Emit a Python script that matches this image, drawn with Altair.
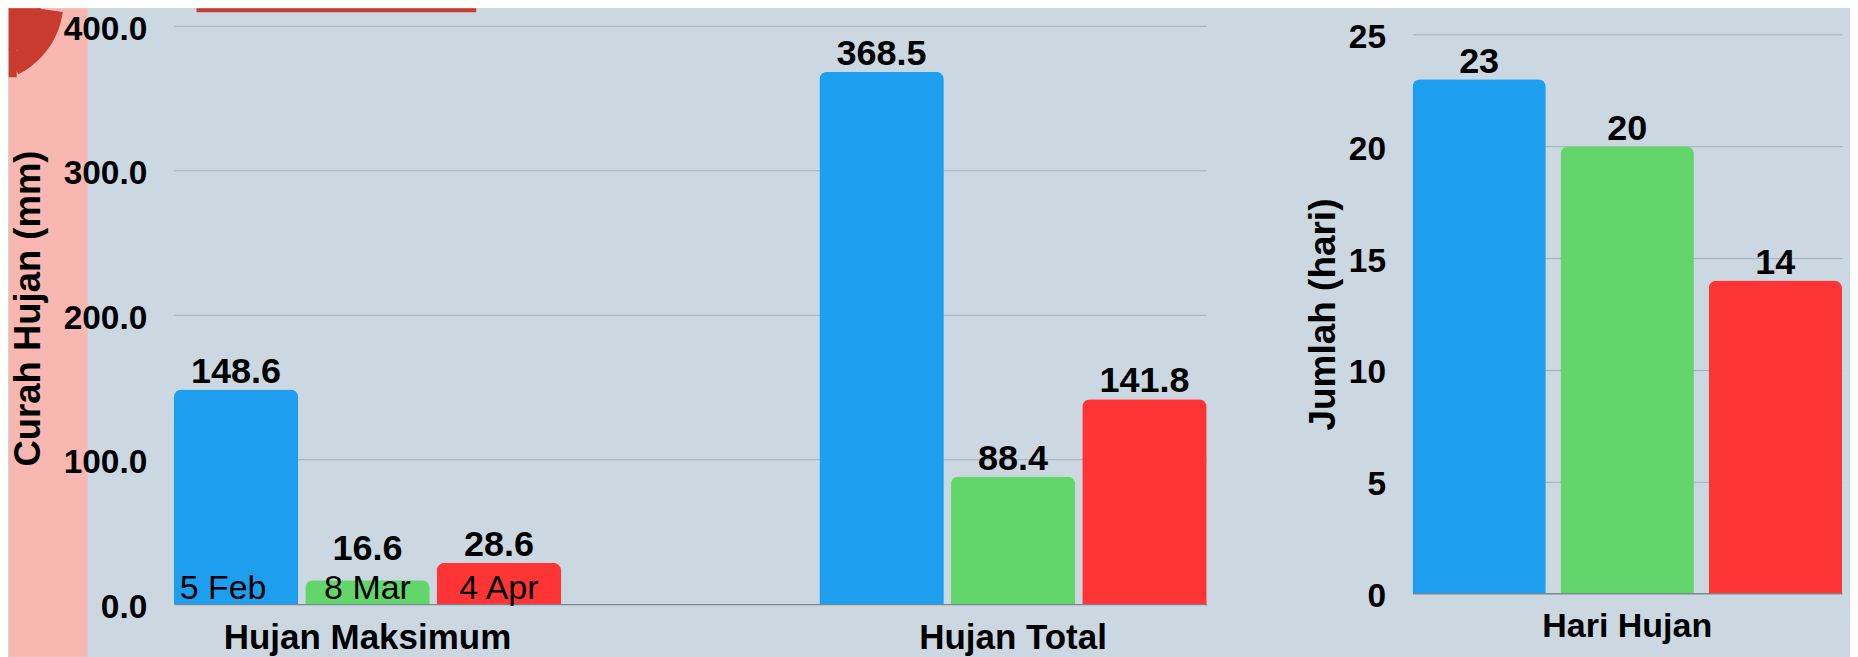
import altair as alt
import pandas as pd

# ---------------- data ----------------
series = ["Februari", "Maret", "April"]
colors = ["#1D9EEF", "#62D66B", "#FF3535"]
groups_left = ["Hujan Maksimum", "Hujan Total"]
hujan_maks = [148.6, 16.6, 28.6]
tanggal_maks = ["5 Feb", "8 Mar", "4 Apr"]
hujan_total = [368.5, 88.4, 141.8]
group_right = ["Hari Hujan"]
hari_hujan = [23, 20, 14]
ticks_left = [0, 100, 200, 300, 400]
ticks_right = [0, 5, 10, 15, 20, 25]

left_df = pd.DataFrame({
    "kategori": [groups_left[0]] * 3 + [groups_left[1]] * 3,
    "seri": series * 2,
    "nilai": hujan_maks + hujan_total,
    "tanggal": tanggal_maks + [""] * 3,
})
right_df = pd.DataFrame({
    "kategori": group_right * 3,
    "seri": series,
    "nilai": hari_hujan,
})
grid_df = pd.DataFrame({"tick": ticks_left})
one = pd.DataFrame({"k": [0]})

FONT = "Liberation Sans"
BG = "#CBD8E2"
GRID = "#A2B0BC"
BASE = "#7E8890"

# ---------------- layout (page pixels) ----------------
LX, LY, LW, LH = 173.3, 26.0, 1034, 578.5
RX, RY, RW, RH = 1412.1, 26.0, 430, 567.5
R_TOP = 25.371  # right axis value at the top of its plot area


def lx(px):
    return px - LX


def ly(py):
    return py - LY


def rx(px):
    return px - RX


def ry(py):
    return py - RY


# ---------------- left chart ----------------
xl = alt.X("kategori:N", sort=groups_left,
           scale=alt.Scale(paddingInner=0.4, paddingOuter=0),
           axis=alt.Axis(title=None, labelAngle=0, labelFontSize=35, labelFontWeight="bold",
                         labelPadding=16, labelLimit=600, ticks=False, tickSize=0,
                         domainColor=BASE, domainWidth=1.2, labelColor="#000000",
                         labelFont=FONT))
xol = alt.XOffset("seri:N", sort=series, scale=alt.Scale(paddingInner=0.053, paddingOuter=0))
yscale_l = alt.Scale(domain=[0, 400], nice=False)
yaxis_l = alt.Axis(values=ticks_left, format=".1f", title="Curah Hujan (mm)", grid=False,
                   titleFontSize=36.5, titleFontWeight="bold", titlePadding=16,
                   titleY=282, titleColor="#000000", titleFont=FONT,
                   labelFontSize=33.5, labelFontWeight="bold", labelPadding=27,
                   labelOffset=3, labelColor="#000000", labelFont=FONT,
                   ticks=False, tickSize=0, domain=False, zindex=2)
col = alt.Color("seri:N", scale=alt.Scale(domain=series, range=colors), legend=None)

pink = alt.Chart(one).mark_rect(color="#F8B8B1").encode(
    x=alt.value(lx(8)), x2=alt.value(lx(87)), y=alt.value(ly(8)), y2=alt.value(ly(657)))
red_c = "#C93A2F"
red_rect1 = alt.Chart(one).mark_rect(color=red_c).encode(
    x=alt.value(lx(8)), x2=alt.value(lx(40)), y=alt.value(ly(8)), y2=alt.value(ly(50)))
red_rect2 = alt.Chart(one).mark_rect(color=red_c).encode(
    x=alt.value(lx(8)), x2=alt.value(lx(16)), y=alt.value(ly(49)), y2=alt.value(ly(77)))
red_arc1 = alt.Chart(one).mark_arc(color=red_c, theta=1.711, theta2=2.325,
                                   radius=83, radius2=58).encode(
    x=alt.value(lx(-20)), y=alt.value(ly(0)))
red_arc2 = alt.Chart(one).mark_arc(color=red_c, theta=2.318, theta2=2.671,
                                   radius=83, radius2=62).encode(
    x=alt.value(lx(-20)), y=alt.value(ly(0)))
red_strip = alt.Chart(one).mark_rect(color="#CC3B30").encode(
    x=alt.value(lx(196)), x2=alt.value(lx(476)), y=alt.value(ly(8)), y2=alt.value(ly(12)))

gridlines_l = alt.Chart(grid_df).transform_filter("datum.tick > 0").mark_rule(
    color=GRID, strokeWidth=1).encode(
    y=alt.Y("tick:Q", scale=yscale_l, axis=yaxis_l),
    x=alt.value(0), x2=alt.value(LW))

bars_l = alt.Chart(left_df).mark_bar(cornerRadiusTopLeft=8, cornerRadiusTopRight=8).encode(
    x=xl, xOffset=xol, y=alt.Y("nilai:Q", scale=yscale_l, axis=yaxis_l), color=col)

vals_l = alt.Chart(left_df).transform_calculate(
    pos="max(datum.nilai, 26)"
).mark_text(font=FONT, fontSize=36, fontWeight="bold", baseline="alphabetic",
            dy=-7, color="#000000").encode(
    x=xl, xOffset=xol, y=alt.Y("pos:Q", scale=yscale_l, axis=yaxis_l),
    text=alt.Text("nilai:Q", format=".1f"))

y_zero = alt.Y("nol:Q", scale=yscale_l, axis=yaxis_l)
date_first = alt.Chart(left_df).transform_filter(
    alt.datum.tanggal == tanggal_maks[0]
).transform_calculate(nol="0").mark_text(
    font=FONT, fontSize=34, baseline="alphabetic", dy=-5.5, dx=-13, color="#000000"
).encode(x=xl, xOffset=xol, y=y_zero, text="tanggal:N")
date_rest = alt.Chart(left_df).transform_filter(
    (alt.datum.tanggal != "") & (alt.datum.tanggal != tanggal_maks[0])
).transform_calculate(nol="0").mark_text(
    font=FONT, fontSize=34, baseline="alphabetic", dy=-5.5, color="#000000"
).encode(x=xl, xOffset=xol, y=y_zero, text="tanggal:N")

left = alt.layer(pink, red_rect1, red_rect2, red_arc1, red_arc2, red_strip,
                 gridlines_l, bars_l, vals_l, date_first, date_rest).properties(
    width=LW, height=LH)

# ---------------- right chart ----------------
xr = alt.X("kategori:N", sort=group_right,
           scale=alt.Scale(paddingInner=0, paddingOuter=0),
           axis=alt.Axis(title=None, labelAngle=0, labelFontSize=34, labelFontWeight="bold",
                         labelPadding=16, labelLimit=600, ticks=False, tickSize=0,
                         domainColor=BASE, domainWidth=1.2, labelColor="#000000",
                         labelFont=FONT))
xor = alt.XOffset("seri:N", sort=series, scale=alt.Scale(paddingInner=0.1, paddingOuter=0))
yr = alt.Y("nilai:Q", scale=alt.Scale(domain=[0, R_TOP], nice=False),
           axis=alt.Axis(values=ticks_right, format="d", title="Jumlah (hari)",
                         titleFontSize=37, titleFontWeight="bold", titlePadding=6,
                         titleY=288, titleColor="#000000", titleFont=FONT,
                         labelFontSize=33.5, labelFontWeight="bold", labelPadding=27,
                         labelOffset=3, labelColor="#000000", labelFont=FONT,
                         ticks=False, tickSize=0, domain=False, gridColor=GRID, gridWidth=1))

frame_r = alt.Chart(one).mark_rect(opacity=0).encode(
    x=alt.value(rx(1207.3)), x2=alt.value(rx(1850)), y=alt.value(ry(8)), y2=alt.value(ry(657)))
bars_r = alt.Chart(right_df).mark_bar(cornerRadiusTopLeft=8, cornerRadiusTopRight=8).encode(
    x=xr, xOffset=xor, y=yr, color=col)
vals_r = alt.Chart(right_df).mark_text(font=FONT, fontSize=36, fontWeight="bold",
                                       baseline="alphabetic", dy=-6, color="#000000").encode(
    x=xr, xOffset=xor, y=alt.Y("nilai:Q"), text=alt.Text("nilai:Q", format="d"))

right = alt.layer(frame_r, bars_r, vals_r).properties(width=RW, height=RH)

chart = alt.hconcat(left, right, spacing=0).resolve_scale(
    x="independent", y="independent", xOffset="independent"
).configure(
    background=BG,
    padding=0,
).configure_view(stroke=None)

chart.save("out.html", embed_options={"renderer": "svg", "actions": False})
